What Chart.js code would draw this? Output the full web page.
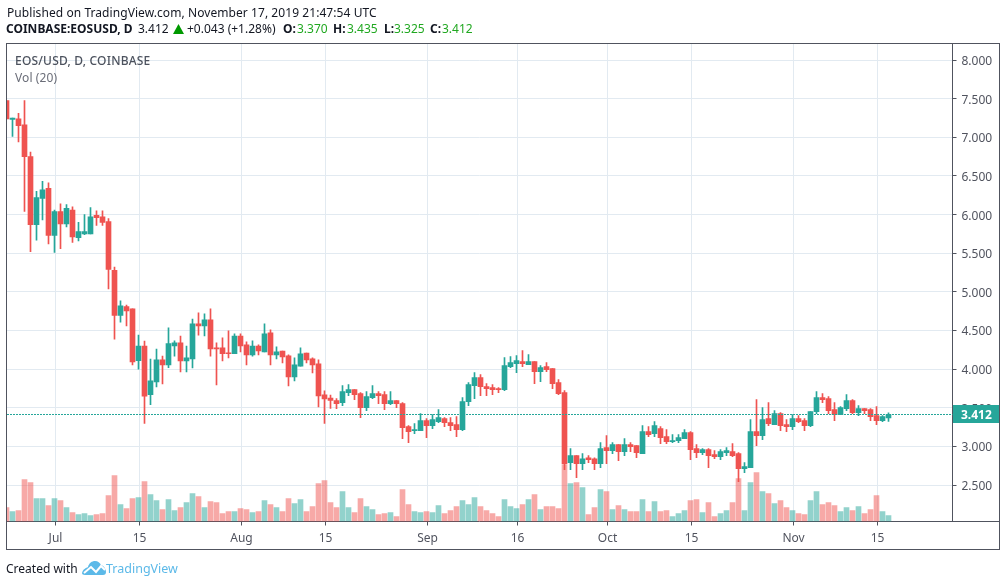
<!DOCTYPE html>
<html>
<head>
<meta charset="utf-8">
<title>EOS/USD</title>
<script src="https://cdn.jsdelivr.net/npm/chart.js@4"></script>
<style>
  html, body { margin: 0; padding: 0; background: #fff; }
  #wrap { position: relative; width: 1006px; height: 586px; overflow: hidden; font-family: "Noto Sans", sans-serif; }
  canvas { position: absolute; left: 0; top: 0; }
  .t { position: absolute; white-space: nowrap; font-size: 12px; line-height: 16px; color: #131722; }
  .b { font-weight: 700; }
  .g { color: #21a821; }
</style>
</head>
<body>
<div id="wrap">
  <canvas id="myChart" width="1006" height="586"></canvas>

  <span class="t" style="left:7px;top:5px;letter-spacing:0.07px">Published on TradingView.com, November 17, 2019 21:47:54 UTC</span>

  <span class="t b" style="left:6px;top:21px">COINBASE:EOSUSD, D</span>
  <span class="t" style="left:138px;top:21px">3.412</span>
  <svg style="position:absolute;left:173px;top:24px" width="11" height="11"><polygon points="5.5,0 11,10 0,10" fill="#009900"/></svg>
  <span class="t" style="left:187px;top:21px">+0.043 (+1.28%)</span>
  <span class="t b" style="left:283px;top:21px">O:</span><span class="t g" style="left:297px;top:21px">3.370</span>
  <span class="t b" style="left:333px;top:21px">H:</span><span class="t g" style="left:347px;top:21px">3.435</span>
  <span class="t b" style="left:384px;top:21px">L:</span><span class="t g" style="left:394px;top:21px">3.325</span>
  <span class="t b" style="left:430px;top:21px">C:</span><span class="t g" style="left:442px;top:21px">3.412</span>

  <span class="t" style="left:15px;top:53px;color:#4c525e;font-weight:500;letter-spacing:0.2px">EOS/USD, D, COINBASE</span>
  <span class="t" style="left:15px;top:70px;color:#6a6d78;letter-spacing:0.1px">Vol (20)</span>

  <span class="t" style="left:6px;top:561px">Created with</span>
  <svg style="position:absolute;left:82px;top:560px" width="24" height="16" viewBox="0 0 24 16">
    <path d="M0 13 C1 9 4 8 6 7 C7 3 10 1 13 1 C16 1 18 3 19 5 C22 6 24 9 24 12 C24 14 23 15 21 15 L3 15 C1 15 0 14 0 13 Z" fill="#5cb9e8"/>
    <path d="M2 13 L9 7 L14 12 L19 6 L23 10" fill="none" stroke="#fff" stroke-width="2"/>
  </svg>
  <span class="t" style="left:106px;top:561px;font-size:12.5px;color:#5cb9e8">TradingView</span>
</div>

<script>
var opens = [7.475,7.23,7.24,7.16,6.75,5.87,6.21,6.34,5.73,6.04,
  5.88,6.06,5.70,5.75,5.75,5.99,5.97,5.91,5.28,4.695,
  4.81,4.78,4.11,4.30,3.67,3.835,4.12,4.055,4.30,4.34,
  4.107,4.133,4.586,4.56,4.638,4.277,4.277,4.21,4.20,4.43,
  4.315,4.185,4.30,4.224,4.47,4.185,4.236,4.172,3.90,4.04,
  4.21,4.133,4.068,3.667,
  3.628,3.593,3.567,3.697,3.735,3.684,3.503,3.632,3.684,3.671,
  3.554,3.593,3.554,3.257,3.205,3.205,3.334,3.270,3.321,3.360,
  3.308,3.283,3.218,3.580,3.787,3.891,3.774,3.761,3.748,3.735,
  4.033,4.072,4.098,4.059,4.098,3.968,4.033,4.007,3.826,3.697,
  2.791,2.881,2.778,2.855,2.842,2.778,2.985,2.946,3.024,2.933,
  3.024,3.011,2.907,3.192,3.166,
  3.231,3.128,3.063,3.076,3.102,3.180,2.973,2.921,2.960,2.895,
  2.869,2.921,2.934,2.908,2.714,2.727,3.193,3.141,3.361,3.283,
  3.426,3.283,3.257,3.361,3.335,3.270,3.451,3.633,3.620,3.477,
  3.413,3.490,3.594,3.439,3.490,3.477,3.400,3.335,3.370];

var closes = [7.238,7.25,7.15,6.75,5.87,6.22,6.32,5.73,6.04,5.88,
  6.08,5.71,5.78,5.78,5.97,5.96,5.90,5.29,4.695,4.82,
  4.755,4.095,4.30,3.65,3.85,4.12,4.055,4.33,4.34,4.107,
  4.146,4.586,4.56,4.638,4.263,4.263,4.20,4.20,4.43,4.30,
  4.185,4.30,4.236,4.457,4.185,4.224,4.16,3.90,4.055,4.198,
  4.12,4.055,3.654,3.615,
  3.597,3.554,3.710,3.735,3.671,3.503,3.645,3.684,3.658,3.554,
  3.593,3.554,3.244,3.192,3.218,3.334,3.270,3.347,3.373,3.308,
  3.270,3.218,3.580,3.800,3.891,3.774,3.748,3.735,3.735,4.046,
  4.085,4.111,4.072,4.098,3.968,4.020,3.994,3.813,3.684,2.778,
  2.881,2.778,2.842,2.829,2.778,2.972,2.946,3.024,2.933,3.024,
  2.998,2.920,3.192,3.153,3.270,
  3.115,3.063,3.076,3.115,3.180,2.960,2.921,2.960,2.882,2.869,
  2.934,2.947,2.882,2.714,2.740,3.193,3.141,3.348,3.296,3.426,
  3.270,3.257,3.361,3.322,3.270,3.451,3.633,3.607,3.464,3.413,
  3.503,3.594,3.439,3.490,3.464,3.387,3.335,3.387,3.412];

var highs = [7.475,7.25,7.31,7.475,6.81,6.30,6.43,6.41,6.06,6.14,
  6.13,6.10,5.90,6.0,6.09,6.05,6.05,5.95,5.32,4.885,
  4.83,4.78,4.44,4.365,4.13,4.26,4.17,4.535,4.366,4.43,
  4.30,4.65,4.73,4.716,4.78,4.34,4.405,4.496,4.457,4.457,
  4.353,4.366,4.315,4.586,4.51,4.288,4.236,4.185,4.146,4.276,
  4.21,4.146,4.12,3.72,
  3.666,3.619,3.787,3.800,3.735,3.697,3.710,3.787,3.710,3.710,
  3.710,3.593,3.567,3.270,3.295,3.425,3.360,3.412,3.477,3.373,
  3.373,3.386,3.632,3.826,3.955,3.930,3.813,3.800,3.761,4.150,
  4.163,4.176,4.240,4.188,4.098,4.046,4.085,4.007,3.865,3.722,
  2.972,2.881,2.907,2.881,2.855,3.050,3.140,3.050,3.024,3.101,
  3.050,3.011,3.270,3.257,3.321,
  3.257,3.218,3.154,3.154,3.218,3.193,3.024,2.973,2.973,2.947,
  2.960,2.986,3.037,2.921,2.791,3.348,3.607,3.503,3.568,3.464,
  3.439,3.348,3.413,3.400,3.361,3.451,3.710,3.684,3.646,3.568,
  3.516,3.671,3.607,3.529,3.490,3.490,3.516,3.400,3.435];

var lows = [7.238,7.01,6.94,6.04,5.52,5.67,5.93,5.62,5.51,5.56,
  5.84,5.64,5.66,5.74,5.75,5.86,5.86,5.04,4.39,4.61,
  4.56,4.055,4.0,3.30,3.54,3.77,3.81,4.02,4.17,3.965,
  3.965,4.017,4.44,4.43,4.17,3.796,4.107,4.146,4.20,4.224,
  4.055,4.17,4.185,4.224,4.055,4.133,4.08,3.783,3.848,4.04,
  4.08,3.952,3.511,3.30,
  3.494,3.490,3.528,3.658,3.606,3.373,3.464,3.619,3.554,3.477,
  3.541,3.503,3.101,3.050,3.166,3.205,3.114,3.231,3.308,3.257,
  3.205,3.127,3.205,3.528,3.619,3.658,3.658,3.671,3.697,3.722,
  4.020,3.955,4.033,4.059,3.813,3.839,3.968,3.748,3.671,2.700,
  2.700,2.597,2.700,2.791,2.700,2.726,2.778,2.907,2.817,2.881,
  2.933,2.855,2.907,3.127,3.127,
  3.037,3.037,3.050,3.050,3.102,2.830,2.856,2.895,2.727,2.843,
  2.830,2.882,2.869,2.545,2.662,2.727,3.011,3.089,3.270,3.283,
  3.206,3.193,3.218,3.309,3.206,3.257,3.426,3.568,3.426,3.335,
  3.413,3.464,3.426,3.400,3.426,3.335,3.283,3.322,3.325];

var volumes = [42,30,33,126,117,69,69,48,69,63,
  42,27,21,24,18,21,24,78,138,51,
  39,69,72,120,81,63,36,66,33,42,
  57,84,75,42,60,57,24,30,30,39,
  36,27,30,63,51,42,30,69,54,66,
  30,45,114,123,57,42,90,42,27,69,
  45,36,21,24,27,15,96,51,30,27,
  30,27,48,24,33,45,63,51,72,45,
  33,24,15,66,45,39,51,66,81,36,
  45,45,39,171,114,117,102,21,42,96,
  90,36,48,36,30,30,66,30,60,30,
  33,15,24,33,63,66,27,57,15,24,
  33,57,129,33,117,147,90,84,54,63,
  42,33,24,21,63,90,51,57,48,30,
  42,33,45,24,36,78,30,18];

// candle index of each date label, first candle is Jun 23
var tickDays = [8,22,39,53,70,85,100,114,131,145];
var tickLabels = ["Jul","15","Aug","15","Sep","16","Oct","15","Nov","15"];
var priceTicks = [8,7.5,7,6.5,6,5.5,5,4.5,4,3.5,3,2.5];
var lastPrice = 3.412;

var UP = "#26a69a", DOWN = "#ef5350";
var UP_VOL = "rgba(38,166,154,0.5)", DOWN_VOL = "rgba(239,83,80,0.5)";
var GRID = "#e2eaf1", FRAME = "#50535e", LABEL = "#50535e";

var isUp = closes.map(function (c, i) { return c >= opens[i]; });
var candleColors = isUp.map(function (u) { return u ? UP : DOWN; });
var volumeColors = isUp.map(function (u) { return u ? UP_VOL : DOWN_VOL; });

var lastPriceLine = {
  id: "lastPriceLine",
  afterDatasetsDraw: function (chart) {
    var ctx = chart.ctx, a = chart.chartArea;
    var y = Math.floor(chart.scales.y.getPixelForValue(lastPrice)) + 0.5;
    ctx.save();
    ctx.strokeStyle = UP;
    ctx.lineWidth = 1;
    ctx.setLineDash([2, 1]);
    ctx.beginPath();
    // start on a whole pixel so the dashes stay sharp
    ctx.moveTo(Math.ceil(a.left), y);
    ctx.lineTo(a.right, y);
    ctx.stroke();
    ctx.restore();
  },
  afterDraw: function (chart) {
    var ctx = chart.ctx, a = chart.chartArea;
    var y = Math.floor(chart.scales.y.getPixelForValue(lastPrice)) + 0.5;
    var right = chart.width - 6.5, bottom = chart.height - 36.5;
    ctx.save();
    // outer frame
    ctx.strokeStyle = FRAME;
    ctx.lineWidth = 1;
    ctx.strokeRect(a.left, a.top, right - a.left, bottom - a.top);
    ctx.beginPath();
    ctx.moveTo(a.right, a.bottom);
    ctx.lineTo(right, a.bottom);
    ctx.stroke();
    // price tag
    ctx.fillStyle = UP;
    ctx.fillRect(a.right + 0.5, y - 9.5, right - a.right - 1, 18);
    ctx.fillStyle = "#fff";
    ctx.font = "bold 12px 'Noto Sans'";
    ctx.textBaseline = "middle";
    ctx.fillText(lastPrice.toFixed(3), 961, y + 1.5);
    ctx.restore();
  }
};

function xy(values) {
  return values.map(function (v, i) { return { x: i, y: v }; });
}

new Chart("myChart", {
  type: "bar",
  data: {
    datasets: [{
      label: "Volume",
      yAxisID: "vol",
      data: xy(volumes),
      backgroundColor: volumeColors,
      barThickness: 5,
      grouped: false,
      order: 3
    }, {
      label: "Wick",
      data: xy(lows.map(function (l, i) { return [l, highs[i]]; })),
      backgroundColor: candleColors,
      barThickness: 1,
      grouped: false,
      order: 2
    }, {
      label: "Body",
      data: xy(opens.map(function (o, i) { return [o, closes[i]]; })),
      backgroundColor: candleColors,
      barThickness: 5,
      minBarLength: 1,
      grouped: false,
      order: 1
    }]
  },
  options: {
    responsive: false,
    animation: false,
    layout: { padding: { left: 6.5, right: 6.5, top: 43.5, bottom: 36.5 } },
    plugins: { legend: { display: false }, tooltip: { enabled: false } },
    scales: {
      x: {
        type: "linear",
        offset: false,
        min: 0,
        max: 946 / 6,
        afterBuildTicks: function (scale) {
          // date lines sit one pixel right of their candle in the original
          scale.ticks = tickDays.map(function (d) { return { value: d + 1 / 6 }; });
        },
        afterFit: function (scale) { scale.height = 28; },
        border: { display: true, color: FRAME },
        grid: { color: GRID, offset: false, tickColor: FRAME, tickLength: 4 },
        ticks: {
          autoSkip: false,
          maxRotation: 0,
          padding: 6,
          color: LABEL,
          font: { family: "Noto Sans", size: 12 },
          callback: function (v, i) { return tickLabels[i]; }
        }
      },
      y: {
        position: "right",
        min: 8 - 461.5 / 77.3,
        max: 8 + 16.5 / 77.3,
        afterBuildTicks: function (scale) {
          scale.ticks = priceTicks.map(function (p) { return { value: p }; });
        },
        afterFit: function (scale) { scale.width = 47; },
        border: { display: true, color: FRAME },
        grid: { color: GRID, tickColor: FRAME, tickLength: 4 },
        ticks: {
          padding: 5,
          labelOffset: 1.5,
          color: LABEL,
          font: { family: "Noto Sans", size: 12 },
          callback: function (v) { return v.toFixed(3); }
        }
      },
      vol: {
        display: false,
        min: 0,
        max: 1434
      }
    }
  },
  plugins: [lastPriceLine]
});
</script>
</body>
</html>
